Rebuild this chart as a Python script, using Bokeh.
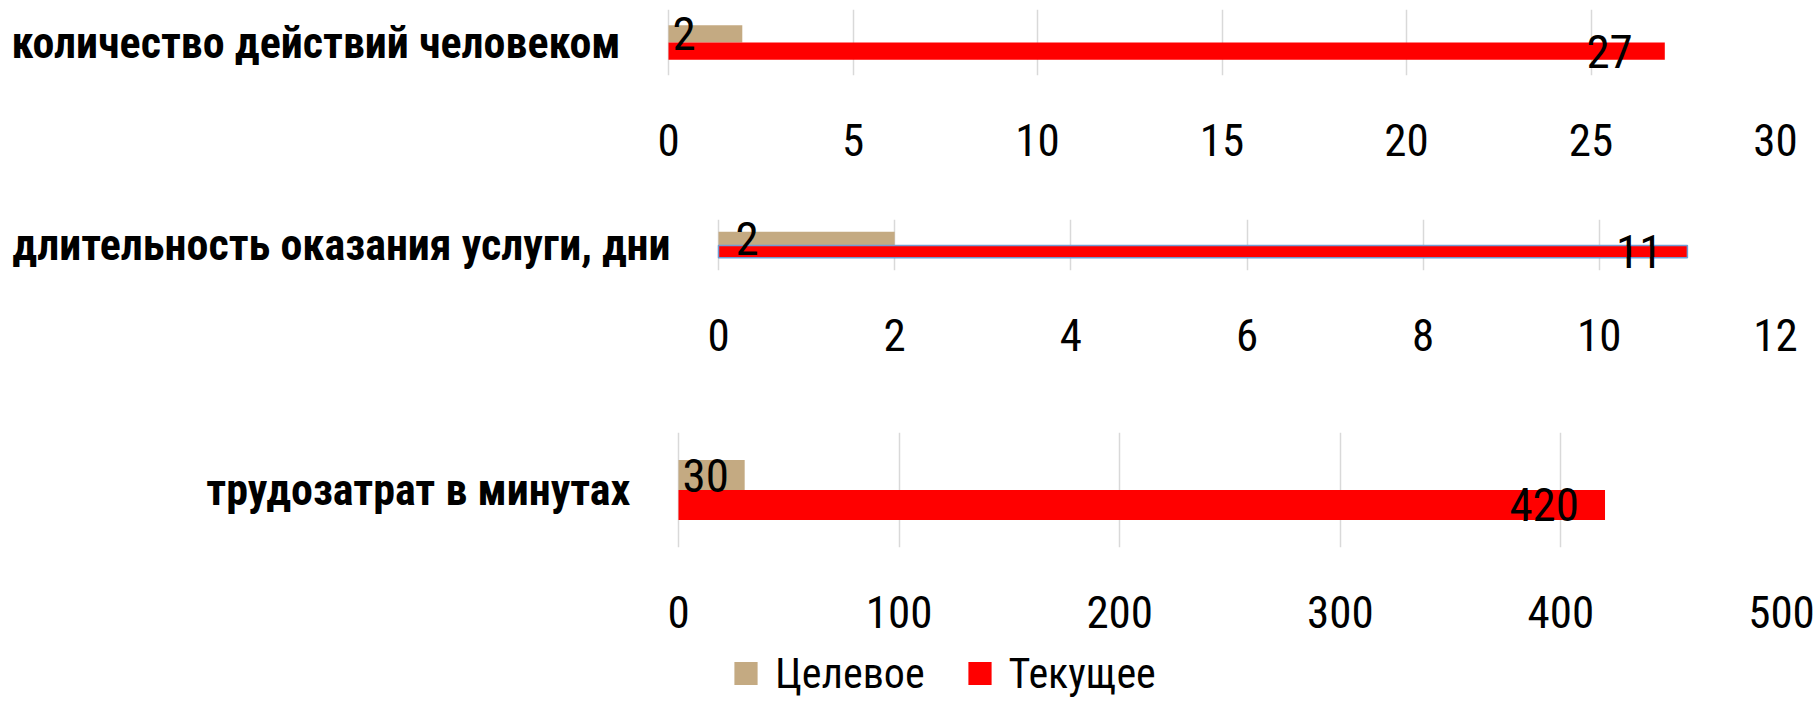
from bokeh.plotting import figure
from bokeh.models import FactorRange, Range1d, FixedTicker, ColumnDataSource, Legend, LegendItem
from bokeh.transform import dodge
from bokeh.embed import file_html
from bokeh.resources import INLINE
from bokeh.core.properties import value

# ---- data ----
categories = ["количество действий человеком",
              "длительность оказания услуги, дни",
              "трудозатрат в минутах"]
target = [2, 2, 30]          # Целевое
current = [27, 11, 420]      # Текущее
axis_max = [30, 12, 500]
tick_step = [5, 2, 100]
series_names = ["Целевое", "Текущее"]

# ---- style ----
TAN = "#C4AA82"
RED = "#FF0000"
GRID = "#D9D9D9"
FONT = "Noto Sans Condensed, Roboto Condensed, DejaVu Sans Condensed, Liberation Sans Narrow, Noto Sans"

# per panel layout: (border_top, frame_h, border_bottom, label_zone_px, data_zone_px, border_right, tan_label_dx, red_label_dx)
layout_spec = [
    (9, 66, 100, 668, 1107, 40, 4, -32),
    (44, 51, 100, 718, 1057, 40, 17, -25),
    (62, 115, 98, 678, 1103, 34, 4, -26),
]

figs = []
for i, cat in enumerate(categories):
    bt, fh, bb, lz, dz, br, tdx, rdx = layout_spec[i]
    x_start = -axis_max[i] * lz / dz   # room on the left of zero for the category label
    p = figure(y_range=FactorRange(factors=[cat]),
               x_range=Range1d(x_start, axis_max[i]),
               frame_width=lz + dz, frame_height=fh,
               min_border_top=bt, min_border_bottom=bb,
               min_border_left=0, min_border_right=br,
               output_backend="svg", toolbar_location=None)
    p.outline_line_color = None
    p.background_fill_color = "white"
    p.border_fill_color = "white"

    src = ColumnDataSource(dict(cat=[cat], tgt=[target[i]], cur=[current[i]],
                                base=[0], tgt_lbl=[str(target[i])], cur_lbl=[str(current[i])]))

    p.hbar(y=dodge("cat", 0.13, range=p.y_range), left="base", right="tgt", height=0.26,
           source=src, fill_color=TAN, line_color=None)
    if i == 1:
        p.hbar(y=dodge("cat", -0.13, range=p.y_range), left="base", right="cur", height=0.24,
               source=src, fill_color=RED, line_color="#6F9CD4", line_width=1.5)
    else:
        p.hbar(y=dodge("cat", -0.13, range=p.y_range), left="base", right="cur", height=0.26,
               source=src, fill_color=RED, line_color=None)

    p.text(x="base", y=dodge("cat", 0.13, range=p.y_range), text="tgt_lbl", source=src,
           text_align="left", text_baseline="middle", x_offset=tdx,
           text_font=value(FONT), text_font_size="47px", text_color="black")
    p.text(x="cur", y=dodge("cat", -0.13, range=p.y_range), text="cur_lbl", source=src,
           text_align="right", text_baseline="middle", x_offset=rdx,
           text_font=value(FONT), text_font_size="47px", text_color="black")

    # category label, right-aligned left of the zero line
    p.text(x="base", y="cat", text="cat", source=src,
           text_align="right", text_baseline="middle", x_offset=-48,
           text_font=value(FONT), text_font_style="bold", text_font_size="44px",
           text_color="black")

    # x axis
    p.xaxis.ticker = FixedTicker(ticks=list(range(0, axis_max[i] + 1, tick_step[i])))
    p.xaxis.axis_line_color = None
    p.xaxis.major_tick_line_color = None
    p.xaxis.minor_tick_line_color = None
    p.xaxis.major_label_standoff = 42
    p.xaxis.major_label_text_font = FONT
    p.xaxis.major_label_text_font_size = "45px"
    p.xaxis.major_label_text_color = "black"

    p.yaxis.visible = False
    p.ygrid.visible = False
    p.xgrid.grid_line_color = GRID
    p.xgrid.grid_line_width = 1.5

    figs.append(p)

# ---- legend strip (its bar renderers are hidden; only the legend is shown) ----
lcat = categories[2]
pl = figure(y_range=FactorRange(factors=[lcat]), x_range=Range1d(0, axis_max[2]),
            frame_width=1815, frame_height=55,
            min_border_top=0, min_border_bottom=0, min_border_left=0, min_border_right=0,
            x_axis_location=None, y_axis_location=None,
            output_backend="svg", toolbar_location=None)
pl.grid.visible = False
pl.outline_line_color = None
lsrc = ColumnDataSource(dict(cat=[lcat], tgt=[target[2]], cur=[current[2]], base=[0]))
lr_t = pl.hbar(y="cat", left="base", right="tgt", height=0.5, source=lsrc,
               fill_color=TAN, line_color=None, visible=False)
lr_c = pl.hbar(y="cat", left="base", right="cur", height=0.5, source=lsrc,
               fill_color=RED, line_color=None, visible=False)
legend = Legend(items=[LegendItem(label=series_names[0], renderers=[lr_t]),
                       LegendItem(label=series_names[1], renderers=[lr_c])],
                orientation="horizontal", location="left", margin=731,
                glyph_width=29, glyph_height=29, label_standoff=15, spacing=40,
                padding=0, border_line_color=None, background_fill_alpha=0,
                inactive_fill_alpha=0,
                label_text_font=FONT, label_text_font_size="42px", label_text_color="black",
                label_text_baseline="middle")
pl.add_layout(legend, "center")
figs.append(pl)

open("out.html", "w").write(file_html(figs, INLINE))
